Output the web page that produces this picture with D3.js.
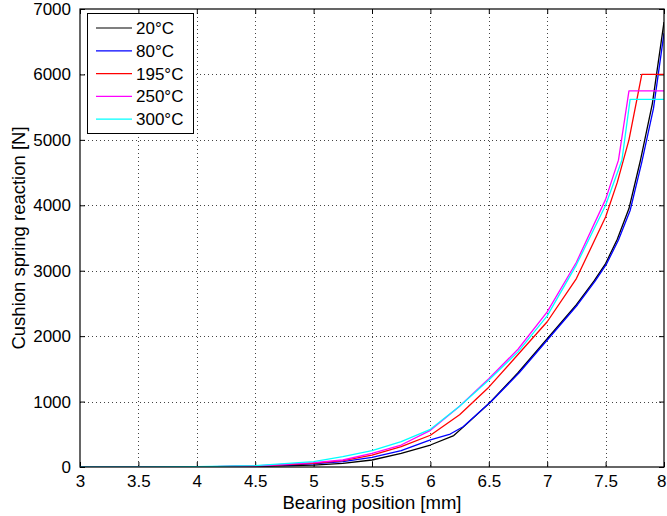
<!DOCTYPE html>
<html><head><meta charset="utf-8">
<script src="https://cdn.jsdelivr.net/npm/d3@7"></script>
<style>
html,body{margin:0;padding:0;background:#fff;}
svg text{font-family:"Liberation Sans",Arial,Helvetica,sans-serif;}
</style></head>
<body><svg id="chart" width="667" height="516"></svg>
<script>
const seriesNames = ["20°C","80°C","195°C","250°C","300°C"];
const seriesColors = ["#000000","#0000ff","#ff0000","#ff00ff","#00ffff"];

const x20 = [3,3.5,4,4.5,5,5.25,5.5,5.75,6,6.2,6.3,6.51,6.75,7,7.25,7.4,7.5,7.6,7.7,7.8,7.9,8];
const y20 = [0,0,2,8,30,56,107,209,336,480,640,985,1440,1960,2480,2840,3110,3480,3950,4700,5550,6800];

const x80 = [3,3.5,4,4.5,5,5.25,5.5,5.75,6,6.17,6.28,6.52,6.76,7.01,7.26,7.41,7.51,7.61,7.71,7.81,7.91,8];
const y80 = [0,0,3,12,50,81,148,249,413,504,616,1000,1440,1960,2480,2840,3110,3470,3920,4660,5480,6630];

const x195 = [3,3.5,4,4.5,5,5.25,5.5,5.75,6,6.25,6.5,6.75,7,7.25,7.5,7.6,7.7,7.81,8];
const y195 = [0,0,3,13,56,96,183,311,485,800,1220,1720,2220,2880,3820,4350,5000,6000,6000];

const x250 = [3,3.5,4,4.5,5,5.25,5.5,5.75,6,6.25,6.5,6.75,7,7.25,7.5,7.61,7.7,8];
const y250 = [0,0,3,15,66,107,209,336,560,930,1350,1800,2370,3130,4090,4690,5750,5750];

const x300 = [3,3.5,4,4.5,5,5.25,5.5,5.75,6,6.25,6.5,6.75,7,7.25,7.5,7.64,7.71,8];
const y300 = [0,0,4,20,81,158,249,387,576,930,1330,1760,2310,3090,4000,4692,5620,5620];

const seriesX = [x20,x80,x195,x250,x300];
const seriesY = [y20,y80,y195,y250,y300];

const xTicks = [3,3.5,4,4.5,5,5.5,6,6.5,7,7.5,8];
const yTicks = [0,1000,2000,3000,4000,5000,6000,7000];
const xLabel = "Bearing position [mm]";
const yLabel = "Cushion spring reaction [N]";

const L=80, R=664, T=9, B=467;
const svg = d3.select("#chart");
const x = d3.scaleLinear().domain([3,8]).range([L,R]);
const y = d3.scaleLinear().domain([0,7000]).range([B,T]);

// grid
const grid = svg.append("g");
grid.selectAll("line.gx").data(xTicks.slice(1,-1)).enter().append("line")
  .attr("x1",d=>Math.round(x(d))+0.5).attr("x2",d=>Math.round(x(d))+0.5).attr("y1",T).attr("y2",B)
  .attr("stroke","#444").attr("stroke-width",1).attr("stroke-dasharray","1,3");
grid.selectAll("line.gy").data(yTicks.slice(1,-1)).enter().append("line")
  .attr("y1",d=>Math.round(y(d))+0.5).attr("y2",d=>Math.round(y(d))+0.5).attr("x1",L).attr("x2",R)
  .attr("stroke","#444").attr("stroke-width",1).attr("stroke-dasharray","1,3");

// axes
const fs = "17px";
const axB = d3.axisBottom(x).tickValues(xTicks).tickSize(-5).tickPadding(8).tickFormat(d3.format("~g"));
const axT = d3.axisTop(x).tickValues(xTicks).tickSize(-5).tickFormat("");
const axL = d3.axisLeft(y).tickValues(yTicks).tickSize(-5).tickPadding(9).tickFormat(d3.format("d"));
const axR = d3.axisRight(y).tickValues(yTicks).tickSize(-5).tickFormat("");
function style(g){ g.select(".domain").remove(); g.selectAll("line").attr("stroke","#000");
  g.selectAll("text").attr("fill","#000").style("font-size",fs); }
const gB = svg.append("g").attr("transform",`translate(0,${B})`).call(axB).call(style);
gB.selectAll("text").filter(d=>d===8).attr("text-anchor","end").attr("dx","2");
svg.append("g").attr("transform",`translate(0,${T})`).call(axT).call(style);
svg.append("g").attr("transform",`translate(${L},0)`).call(axL).call(style);
svg.append("g").attr("transform",`translate(${R},0)`).call(axR).call(style);

// clip
svg.append("clipPath").attr("id","clip").append("rect").attr("x",L).attr("y",T).attr("width",R-L).attr("height",B-T);

const line = d3.line().x(d=>x(d[0])).y(d=>y(d[1]));
const lines = svg.append("g").attr("clip-path","url(#clip)");
seriesNames.forEach((n,i)=>{
  const pts = seriesX[i].map((v,j)=>[v,seriesY[i][j]]);
  lines.append("path").datum(pts).attr("d",line).attr("fill","none")
    .attr("stroke",seriesColors[i]).attr("stroke-width",1.3).attr("stroke-linejoin","round");
});

// frame
svg.append("rect").attr("x",L).attr("y",T).attr("width",R-L).attr("height",B-T)
  .attr("fill","none").attr("stroke","#000").attr("stroke-width",1.2);

// labels
svg.append("text").attr("x",(L+R)/2).attr("y",509).attr("text-anchor","middle")
  .style("font-size","18.5px").text(xLabel);
svg.append("text").attr("transform",`translate(25,${(T+B)/2}) rotate(-90)`).attr("text-anchor","middle")
  .style("font-size","18.5px").text(yLabel);

// legend
const lg = svg.append("g");
lg.append("rect").attr("x",87.5).attr("y",13.5).attr("width",106).attr("height",120)
  .attr("fill","#fff").attr("stroke","#000").attr("stroke-width",1);
seriesNames.forEach((n,i)=>{
  const yy = 28 + i*22.8;
  lg.append("line").attr("x1",96).attr("x2",132).attr("y1",yy).attr("y2",yy)
    .attr("stroke",seriesColors[i]).attr("stroke-width",1.2);
  lg.append("text").attr("x",136).attr("y",yy).attr("dy","0.35em").style("font-size",fs).text(n);
});
</script></body></html>
